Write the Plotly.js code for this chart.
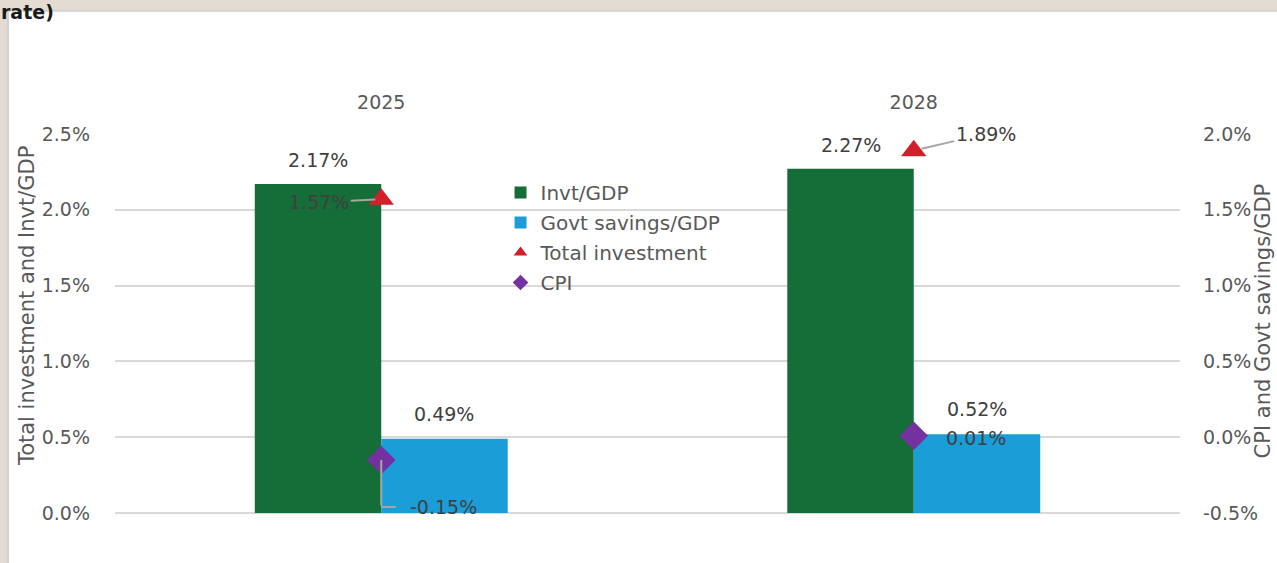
<!DOCTYPE html>
<html>
<head>
<meta charset="utf-8">
<script src="https://cdn.plot.ly/plotly-3.0.1.min.js"></script>
<style>html,body{margin:0;padding:0;background:#fff;}#chart{width:1277px;height:563px;}</style>
</head>
<body>
<div id="chart"></div>
<script>
const categories = ['2025', '2028'];
const invtGDP = [2.17, 2.27];
const govtSavingsGDP = [0.49, 0.52];
const totalInvestment = [1.57, 1.89];
const cpi = [-0.15, 0.01];
const leftTicks = [0, 0.5, 1.0, 1.5, 2.0, 2.5];
const rightTicks = [-0.5, 0, 0.5, 1.0, 1.5, 2.0];

const FONT = 'DejaVu Sans, Arial, sans-serif';
const GREY = '#595959';
const LABEL = '#404040';
const LEADER = '#a6a6a6';
const fmt = v => v.toFixed(2) + '%';

const traces = [
  {type: 'bar', name: 'Invt/GDP', x: categories, y: invtGDP, yaxis: 'y',
   marker: {color: '#156d38'}, legendgroup: 'a', hoverinfo: 'skip'},
  {type: 'bar', name: 'Govt savings/GDP', x: categories, y: govtSavingsGDP, yaxis: 'y',
   marker: {color: '#1b9dd8'}, legendgroup: 'b', hoverinfo: 'skip'},
  {type: 'scatter', mode: 'markers', name: 'Total investment', x: categories, y: totalInvestment, yaxis: 'y2',
   marker: {symbol: 'triangle-up', size: 22, color: '#d2202b'}, legendgroup: 'c', hoverinfo: 'skip'},
  {type: 'scatter', mode: 'markers', name: 'CPI', x: categories, y: cpi, yaxis: 'y2',
   marker: {symbol: 'diamond', size: 22, color: '#7332a0'}, legendgroup: 'd', hoverinfo: 'skip'}
];

const lf = {family: FONT, size: 19, color: LABEL};
const annotations = [];
// bar value labels (x given as category index)
categories.forEach((c, i) => {
  annotations.push({x: i, y: invtGDP[i], xref: 'x', yref: 'y', text: fmt(invtGDP[i]),
    showarrow: false, xshift: -63, yshift: 24, font: lf});
  annotations.push({x: i, y: govtSavingsGDP[i], xref: 'x', yref: 'y', text: fmt(govtSavingsGDP[i]),
    showarrow: false, xshift: 63, yshift: 25, font: lf});
});
// total investment labels with leaders
annotations.push({x: 0, y: totalInvestment[0], xref: 'x', yref: 'y2', text: fmt(totalInvestment[0]),
  showarrow: true, arrowhead: 0, arrowwidth: 2, arrowcolor: LEADER, ax: -62, ay: 3, standoff: 6, font: lf});
annotations.push({x: 1, y: totalInvestment[1], xref: 'x', yref: 'y2', text: fmt(totalInvestment[1]),
  showarrow: true, arrowhead: 0, arrowwidth: 2, arrowcolor: LEADER, ax: 72, ay: -17, standoff: 8, font: lf});
// CPI labels
annotations.push({x: 0, y: cpi[0], xref: 'x', yref: 'y2', text: '',
  showarrow: true, arrowhead: 0, arrowwidth: 2, arrowcolor: LEADER, ax: 0, ay: 47, standoff: 0});
annotations.push({x: 0, y: cpi[0], xref: 'x', yref: 'y2', text: '', yshift: -47,
  showarrow: true, arrowhead: 0, arrowwidth: 2, arrowcolor: LEADER, ax: 16, ay: 0, standoff: 0});
annotations.push({x: 0, y: cpi[0], xref: 'x', yref: 'y2', text: fmt(cpi[0]),
  showarrow: false, xshift: 62, yshift: -47, font: lf});
annotations.push({x: 1, y: cpi[1], xref: 'x', yref: 'y2', text: fmt(cpi[1]),
  showarrow: false, xshift: 62, yshift: -2, font: lf});
// axis titles
annotations.push({xref: 'paper', yref: 'paper', x: -0.0826, y: 0.546, xanchor: 'center', yanchor: 'middle',
  text: 'Total investment and Invt/GDP', textangle: -90, showarrow: false, font: {family: FONT, size: 21, color: GREY}});
annotations.push({xref: 'paper', yref: 'paper', x: 1.0775, y: 0.507, xanchor: 'center', yanchor: 'middle',
  text: 'CPI and Govt savings/GDP', textangle: -90, showarrow: false, font: {family: FONT, size: 21, color: GREY}});
// heading fragment at top-left
annotations.push({xref: 'paper', yref: 'paper', x: -0.108, y: 1.3536, xanchor: 'left', yanchor: 'top',
  text: '<b>rate)</b>', showarrow: false, borderpad: 0, font: {family: FONT, size: 19, color: '#1a1a1a'}});

const shapes = [
  {type: 'rect', xref: 'paper', yref: 'paper', x0: -0.2, x1: 1.2, y0: 1.327, y1: 1.45, fillcolor: '#e4dcd2', line: {width: 0}, layer: 'below'},
  {type: 'rect', xref: 'paper', yref: 'paper', x0: -0.2, x1: -0.1014, y0: -0.3, y1: 1.45, fillcolor: '#e4dcd2', line: {width: 0}, layer: 'below'},
  {type: 'line', xref: 'paper', yref: 'paper', x0: -0.1014, x1: 1.2, y0: 1.325, y1: 1.325, line: {color: '#d2d2d2', width: 2}, layer: 'below'},
  {type: 'line', xref: 'paper', yref: 'paper', x0: -0.1005, x1: -0.1005, y0: -0.3, y1: 1.325, line: {color: '#d2d2d2', width: 2}, layer: 'below'}
];

const layout = {
  width: 1277, height: 563,
  margin: {l: 115, r: 97, t: 134, b: 50},
  paper_bgcolor: '#ffffff', plot_bgcolor: '#ffffff',
  font: {family: FONT, color: GREY},
  barmode: 'group', bargap: 0.525, bargroupgap: 0,
  showlegend: true,
  legend: {x: 0.362, y: 0.897, xanchor: 'left', yanchor: 'top', bgcolor: 'rgba(0,0,0,0)',
    font: {family: FONT, size: 20, color: GREY}, tracegroupgap: 1, itemsizing: 'constant'},
  xaxis: {type: 'category', side: 'top', range: [-0.5, 1.5], autorange: false, showgrid: false, showline: false, zeroline: false,
    ticks: '', ticklabelstandoff: 20, tickfont: {family: FONT, size: 19, color: GREY}, fixedrange: true},
  yaxis: {range: [0, 2.5], tickvals: leftTicks, ticktext: leftTicks.map(v => v.toFixed(1) + '%'),
    showgrid: true, gridcolor: '#d9d9d9', gridwidth: 2, zeroline: true, zerolinecolor: '#d9d9d9', zerolinewidth: 2,
    showline: false, ticks: '', ticklabelstandoff: 24, tickfont: {family: FONT, size: 19, color: GREY}},
  yaxis2: {range: [-0.5, 2.0], overlaying: 'y', side: 'right', tickvals: rightTicks,
    ticktext: rightTicks.map(v => v.toFixed(1) + '%'), showgrid: false, zeroline: false, showline: false,
    ticks: '', ticklabelstandoff: 22, tickfont: {family: FONT, size: 19, color: GREY}},
  annotations: annotations,
  shapes: shapes
};

Plotly.newPlot('chart', traces, layout, {displayModeBar: false, staticPlot: true});
</script>
</body>
</html>
